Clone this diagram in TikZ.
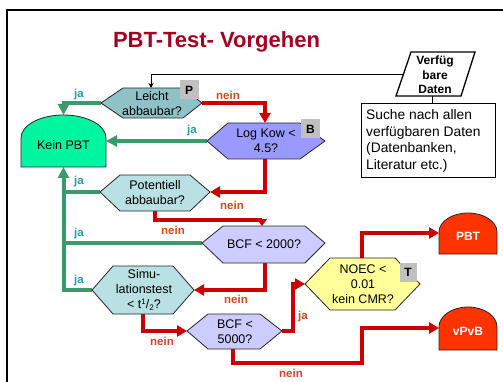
\documentclass[tikz,border=0pt]{standalone}
\usepackage{fontspec}
\setmainfont{Liberation Sans}
\usetikzlibrary{arrows.meta}
\definecolor{titlered}{RGB}{165,0,33}
\definecolor{tealdark}{RGB}{143,194,198}
\definecolor{teallight}{RGB}{185,224,226}
\definecolor{lavdark}{RGB}{153,153,255}
\definecolor{lavlight}{RGB}{204,204,255}
\definecolor{mint}{RGB}{0,245,160}
\definecolor{noecyellow}{RGB}{255,255,153}
\definecolor{endred}{RGB}{255,51,0}
\definecolor{flowgreen}{RGB}{58,154,106}
\definecolor{flowred}{RGB}{204,0,0}
\definecolor{jateal}{RGB}{30,160,165}
\definecolor{neinred}{RGB}{222,70,30}
\definecolor{taggray}{RGB}{192,192,192}
\newcommand\fsz[2]{\fontsize{#1}{#2}\selectfont}
% #1 name, #2 fill, #3 xL, #4 xTL, #5 xTR, #6 xR, #7 yT, #8 yM, #9 yB
\newcommand\hexshape[9]{%
  \draw[hexborder,fill=#2] (#3,#8) -- (#4,#7) -- (#5,#7) -- (#6,#8) -- (#5,#9) -- (#4,#9) -- cycle;
  \coordinate (#1-w) at (#3,#8);
  \coordinate (#1-e) at (#6,#8);}
% #1 name, #2 fill, #3 xL, #4 xR, #5 rx, #6 ry, #7 yShoulder, #8 yBottom
\newcommand\domeshape[8]{%
  \draw[hexborder,fill=#2] (#3,#8) -- (#3,#7) arc[start angle=180,end angle=360,x radius=#5,y radius=#6] -- (#4,#8) -- cycle;
  \coordinate (#1-w) at (#3,#7);}
\begin{document}
\begin{tikzpicture}[x=1pt,y=-1pt,
  hexborder/.style={draw=black!85,line width=0.8pt},
  hextext/.style={align=center,inner sep=0pt,font=\fsz{12.5}{15}},
  tagbox/.style={fill=taggray,inner sep=0pt,minimum width=19pt,minimum height=19pt,font=\fsz{12}{14}\bfseries},
  greenflow/.style={draw=flowgreen,line width=4pt},
  greenarrow/.style={greenflow,-{Triangle[length=11pt,width=11pt]}},
  redflow/.style={draw=flowred,line width=4pt},
  redarrow/.style={redflow,-{Triangle[length=10pt,width=11pt]}},
  blackflow/.style={draw=black,line width=0.9pt,-{Stealth[length=5pt,width=5pt]}},
  jalabel/.style={text=jateal,inner sep=0pt,font=\fsz{11.5}{13}\bfseries},
  neinlabel/.style={text=neinred,inner sep=0pt,font=\fsz{11.5}{13}\bfseries},
  jared/.style={text=neinred,inner sep=0pt,font=\fsz{11.5}{13}\bfseries}]
\useasboundingbox (0,0) rectangle (503,382);
\fill[white] (0,0) rectangle (503,382);
\draw[line width=2pt] (7,386) -- (7,10) -- (508,10);

\node[text=titlered,font=\fsz{22}{25}\bfseries] (title) at (216.5,42) {PBT-Test- Vorgehen};

% connection points
\coordinate (leicht-n) at (151,88);
\coordinate (logkow-n) at (265,123);
\coordinate (logkow-s) at (265,159);
\coordinate (potent-s) at (155,211);
\coordinate (pr1) at (155,220);
\coordinate (bcfa-n) at (262,226);
\coordinate (bcfa-s) at (265,263);
\coordinate (simul-s) at (143,314);
\coordinate (bcfb-s) at (233,349);
\coordinate (r1) at (293,331);
\coordinate (r2) at (362,363);
\coordinate (noec-n) at (362,258);
\coordinate (kein-n) at (63.5,115);
\coordinate (kein-e) at (106,141);
\coordinate (kein-s) at (63.5,167);
\coordinate (trunk1) at (61.5,192);
\coordinate (trunk2) at (61.5,243);
\coordinate (verf-w) at (403.5,74);
\coordinate (verf-s) at (432,96);
\coordinate (suche-n) at (432,103);

% connectors (drawn first, shapes on top)
\draw[blackflow] (verf-w) -| (leicht-n);
\draw[line width=0.9pt] (verf-s) -- (suche-n);

\draw[greenarrow] (101,103) -| (kein-n);
\draw[greenarrow] (207,141) -- (kein-e);
\draw[greenarrow] (92,290) -| (kein-s);
\draw[greenflow] (100,192) -- (trunk1);
\draw[greenflow] (202,243) -- (trunk2);

\draw[redarrow] (202,103) -| (logkow-n);
\draw[redarrow] (logkow-s) |- (210,192);
\draw[redflow,-{Triangle[length=7pt,width=10pt]}] (potent-s) -- (pr1) -| (bcfa-n);
\draw[redarrow] (bcfa-s) |- (194,290);
\draw[redarrow] (simul-s) |- (187,331);
\draw[redarrow] (282,331) -- (r1) |- (305,284);
\draw[redarrow] (bcfb-s) |- (r2) |- (439,328);
\draw[redarrow] (noec-n) |- (439,233);

% hexagons
\hexshape{leicht}{tealdark}{101}{123}{183}{202}{88}{103}{118}
\hexshape{logkow}{lavdark}{207}{228}{300}{325}{123}{141}{159}
\hexshape{potent}{teallight}{100}{120}{190}{210}{175}{192}{211}
\hexshape{bcfa}{lavlight}{202}{223}{305}{325}{226}{243}{263}
\hexshape{simul}{teallight}{92}{113}{173}{194}{266}{290}{314}
\hexshape{bcfb}{lavlight}{187}{208}{260}{282}{314}{331}{349}
\hexshape{noec}{noecyellow}{305}{330}{395}{420}{258}{284}{310}

\node[hextext] (tleicht) at (152,104) {Leicht\\abbaubar?};
\node[hextext] (tlogkow) at (266,141) {Log Kow <\\4.5?};
\node[hextext] (tpotent) at (155,193) {Potentiell\\abbaubar?};
\node[hextext] (tbcfa) at (264,244) {BCF < 2000?};
\node[hextext] (tsimul) at (144,290) {Simu-\\lationstest\\< t\raisebox{0.55ex}{\fsz{8}{9}1}/\raisebox{-0.35ex}{\fsz{8}{9}2}?};
\node[hextext] (tbcfb) at (235,332) {BCF <\\5000?};
\node[hextext] (tnoec) at (363,284) {NOEC <\\0.01\\kein CMR?};

\node[tagbox] (tagP) at (189,90) {P};
\node[tagbox] (tagB) at (310.5,129) {B};
\node[tagbox,minimum width=17pt] (tagT) at (408,272.5) {T};

% domes
\domeshape{kein}{mint}{21}{106}{42.5}{23}{138}{167}
\domeshape{pbt}{endred}{439}{497}{29}{19}{232}{254}
\domeshape{vpvb}{endred}{439}{497}{29}{20}{327}{350}
\node[inner sep=0pt,font=\fsz{12.5}{15}] (tkein) at (63.5,145) {Kein PBT};
\node[inner sep=0pt,text=white,font=\fsz{12}{14}\bfseries] (tpbt) at (468,236) {PBT};
\node[inner sep=0pt,text=white,font=\fsz{12}{14}\bfseries] (tvpvb) at (468,331) {vPvB};

% data source
\draw[line width=1.3pt,fill=white] (411,52) -- (475,52) -- (461,96) -- (396,96) -- cycle;
\node[align=center,inner sep=0pt,font=\fsz{12}{14.3}\bfseries] (tverf) at (435,75) {Verfüg\\bare\\Daten};
\node[draw,line width=0.9pt,minimum width=134pt,minimum height=74pt,inner sep=0pt] (suche) at (428,140) {};
\node[anchor=west,align=left,inner sep=0pt,font=\fsz{13.8}{16.7}] (tsuche) at (366,141) {Suche nach allen\\verfügbaren Daten\\(Datenbanken,\\Literatur etc.)};

% labels
\node[jalabel] (ja1) at (79,95) {ja};
\node[jalabel] (ja2) at (192,131) {ja};
\node[jalabel] (ja3) at (79,182) {ja};
\node[jalabel] (ja4) at (79,234) {ja};
\node[jalabel] (ja5) at (79,281) {ja};
\node[jared] (ja6) at (303,317) {ja};
\node[neinlabel] (n1) at (228,95) {nein};
\node[neinlabel] (n2) at (232,205) {nein};
\node[neinlabel] (n3) at (173,230) {nein};
\node[neinlabel] (n4) at (236,299) {nein};
\node[neinlabel] (n5) at (162,341) {nein};
\node[neinlabel] (n6) at (291,373) {nein};
\end{tikzpicture}
\end{document}
